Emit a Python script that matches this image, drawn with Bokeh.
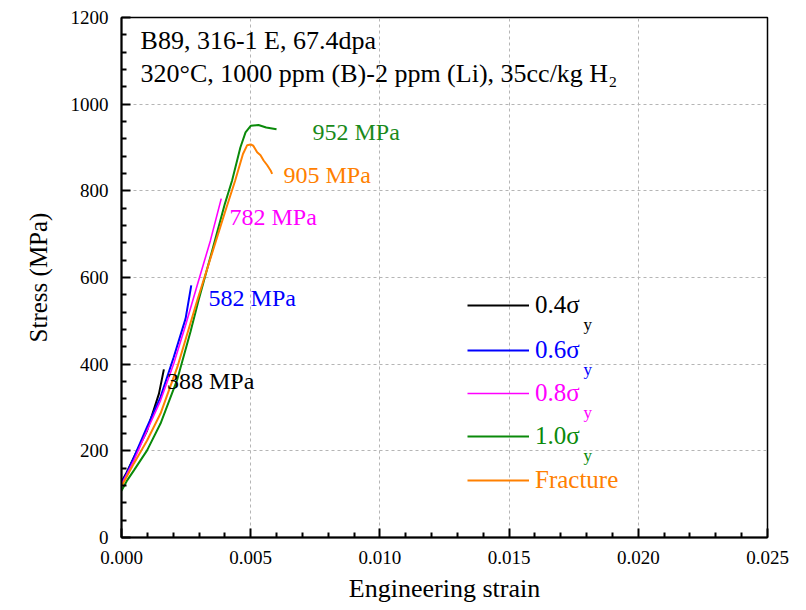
from bokeh.plotting import figure
from bokeh.models import (FixedTicker, PrintfTickFormatter, Legend, LegendItem, Label, Range1d)
from bokeh.embed import file_html
from bokeh.resources import INLINE

# ---------------- data ----------------
black_strain = [0.0, 0.00020, 0.00048, 0.00099, 0.00145, 0.00164]
black_stress = [128, 150, 185, 247, 332, 388]

blue_strain = [0.0, 0.00020, 0.00048, 0.00099, 0.00151, 0.00202, 0.00248, 0.00270]
blue_stress = [125, 148, 185, 255, 324, 416, 505, 582]

magenta_strain = [0.0, 0.00020, 0.00048, 0.00099, 0.00151, 0.00202, 0.00248, 0.00293, 0.00344, 0.00386]
magenta_stress = [122, 145, 178, 247, 316, 401, 490, 582, 685, 782]

green_strain = [0.0, 0.00020, 0.00048, 0.00099, 0.00151, 0.00216, 0.00267, 0.00298, 0.00350,
                0.00400, 0.00428, 0.00460, 0.00480, 0.00500, 0.00530, 0.00560, 0.00600]
green_stress = [108, 130, 155, 201, 263, 365, 475, 547, 660,
                770, 824, 900, 935, 950, 952, 946, 942]

orange_strain = [0.0, 0.00020, 0.00048, 0.00099, 0.00151, 0.00216, 0.00293, 0.00350, 0.00400,
                 0.00440, 0.00470, 0.00486, 0.00500, 0.00510, 0.00525, 0.00538, 0.00550,
                 0.00564, 0.00577, 0.00583]
orange_stress = [118, 140, 171, 224, 286, 393, 547, 655, 750,
                 824, 885, 905, 907, 904, 889, 882, 870, 859, 847, 839]

series_names = ["0.4σ", "0.6σ", "0.8σ", "1.0σ", "Fracture"]
peak_labels = ["388 MPa", "582 MPa", "782 MPa", "952 MPa", "905 MPa"]

x_ticks = [0.0, 0.005, 0.010, 0.015, 0.020, 0.025]
x_minor = [0.001, 0.002, 0.003, 0.004, 0.006, 0.007, 0.008, 0.009, 0.011, 0.012, 0.013, 0.014,
           0.016, 0.017, 0.018, 0.019, 0.021, 0.022, 0.023, 0.024]
y_ticks = [0, 200, 400, 600, 800, 1000, 1200]
y_minor = [40, 80, 120, 160, 240, 280, 320, 360, 440, 480, 520, 560, 640, 680, 720, 760,
           840, 880, 920, 960, 1040, 1080, 1120, 1160]

# ---------------- figure ----------------
FONT = "Liberation Serif"
p = figure(width=806, height=610, output_backend="svg", toolbar_location=None,
           x_range=Range1d(0, 0.025), y_range=Range1d(0, 1200),
           min_border_left=121, min_border_right=39, min_border_top=17, min_border_bottom=73)
p.background_fill_color = "white"
p.border_fill_color = "white"
p.outline_line_color = "black"
p.outline_line_width = 1.5

p.xaxis.ticker = FixedTicker(ticks=x_ticks, minor_ticks=x_minor)
p.yaxis.ticker = FixedTicker(ticks=y_ticks, minor_ticks=y_minor)
p.xaxis.formatter = PrintfTickFormatter(format="%.3f")
p.yaxis.formatter = PrintfTickFormatter(format="%d")

for ax in (p.xaxis[0], p.yaxis[0]):
    ax.axis_line_width = 2
    ax.axis_line_color = "black"
    ax.major_tick_in = 9
    ax.major_tick_out = 0
    ax.minor_tick_in = 5
    ax.minor_tick_out = 0
    ax.major_tick_line_width = 2
    ax.minor_tick_line_width = 2
    ax.major_label_text_font = FONT
    ax.major_label_text_font_size = "19px"
    ax.major_label_text_color = "black"
    ax.axis_label_text_font = FONT
    ax.axis_label_text_font_style = "normal"
    ax.axis_label_text_color = "black"

p.xaxis.axis_label = "Engineering strain"
p.xaxis.axis_label_text_font_size = "26px"
p.xaxis.major_label_standoff = 13
p.xaxis.axis_label_standoff = 7
p.yaxis.axis_label = "Stress (MPa)"
p.yaxis.axis_label_text_font_size = "25px"
p.yaxis.major_label_standoff = 13
p.yaxis.axis_label_standoff = 16

p.xgrid.ticker = FixedTicker(ticks=x_ticks[1:-1])
p.ygrid.ticker = FixedTicker(ticks=y_ticks[1:-1])
for g in (p.xgrid[0], p.ygrid[0]):
    g.grid_line_color = "#b5b5b5"
    g.grid_line_dash = "3 3"
    g.grid_line_width = 1

colors = ["black", "#0000ff", "#ff00ff", "#0a8a0a", "#ff8000"]
widths = [2, 2, 1.6, 2, 2]
data = [(black_strain, black_stress), (blue_strain, blue_stress), (magenta_strain, magenta_stress),
        (green_strain, green_stress), (orange_strain, orange_stress)]

renderers = []
for (xs, ys), c, w in zip(data, colors, widths):
    renderers.append(p.line(xs, ys, line_color=c, line_width=w))

# peak value annotations
label_pos = [(0.00176, 362), (0.00337, 552), (0.00418, 739), (0.00739, 935), (0.00627, 836)]
label_colors = ["black", "#0000ff", "#ff00ff", "#1a8a1a", "#ff8000"]
for txt, (lx, ly), c in zip(peak_labels, label_pos, label_colors):
    p.add_layout(Label(x=lx, y=ly, text=txt, text_font=FONT, text_font_size="24px",
                       text_color=c, text_align="left", text_baseline="middle"))

# header text
p.add_layout(Label(x=0.00074, y=1147, text="B89, 316-1 E, 67.4dpa", text_font=FONT,
                   text_font_size="26px", text_color="black", text_align="left", text_baseline="middle"))
p.add_layout(Label(x=0.00074, y=1070, text="320°C, 1000 ppm (B)-2 ppm (Li), 35cc/kg H₂", text_font=FONT,
                   text_font_size="26px", text_color="black", text_align="left", text_baseline="middle"))

# legends (one per entry so each label takes its line colour)
leg_centers = [305, 350, 393, 436, 480]  # screen y of entry centres
for name, r, c, cy in zip(series_names, renderers, colors, leg_centers):
    leg = Legend(items=[LegendItem(label=name, renderers=[r])],
                 location=(346, 537 - cy - 14),
                 glyph_width=62, glyph_height=20, label_height=20, label_standoff=6,
                 label_text_font=FONT, label_text_font_size="25px", label_text_color=c,
                 padding=0, margin=0, spacing=0,
                 border_line_alpha=0, background_fill_alpha=0)
    p.add_layout(leg)
    if name != "Fracture":
        p.add_layout(Label(x=462, y=537 - cy - 19, x_units="screen", y_units="screen", text="y",
                           text_font=FONT, text_font_size="17px", text_color=c,
                           text_align="left", text_baseline="middle"))

open("out.html", "w").write(file_html(p, INLINE))
